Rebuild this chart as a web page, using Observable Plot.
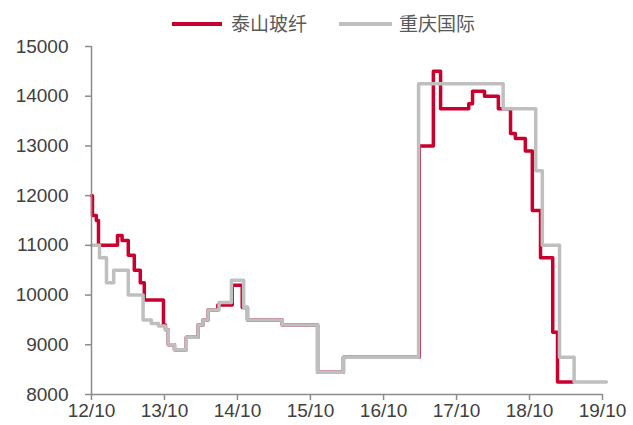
<!DOCTYPE html>
<html><head><meta charset="utf-8">
<script src="https://cdn.jsdelivr.net/npm/d3@7"></script>
<script src="https://cdn.jsdelivr.net/npm/@observablehq/plot@0.6"></script>
<style>
body{margin:0;background:#fff;}
#wrap{position:relative;width:633px;height:425px;overflow:hidden;}
.lg-line{position:absolute;height:4px;}
.lg-text{position:absolute;font-family:"Noto Sans CJK SC",sans-serif;font-size:19px;color:#595959;line-height:20px;}
</style></head>
<body><div id="wrap"></div>
<script>
// 泰山玻纤 (step start dates and prices)
const taishanDates = ["2012-10-01","2012-10-06","2012-10-25","2012-11-05","2013-02-08","2013-03-03","2013-04-03","2013-05-03","2013-06-02","2013-06-22","2013-09-26","2013-10-06","2013-10-20","2013-11-20","2014-01-18","2014-03-18","2014-04-12","2014-05-07","2014-06-25","2014-09-05","2014-10-25","2014-11-20","2015-05-13","2015-11-06","2016-03-14","2017-03-28","2017-06-07","2017-07-13","2017-12-01","2017-12-20","2018-02-18","2018-04-28","2018-06-28","2018-07-22","2018-09-10","2018-10-15","2018-11-25","2019-01-25","2019-02-18","2019-05-06"];
const taishanValues = [12000,11600,11500,11000,11200,11100,10800,10500,10250,9900,9400,9300,9000,8900,9150,9400,9500,9700,9800,10200,9750,9500,9400,8450,8750,13000,14500,13750,13850,14100,14000,13750,13250,13150,12900,11700,10750,9250,8250,8250];
// 重庆国际
const chongqingDates = ["2012-10-01","2012-11-10","2012-12-15","2013-01-20","2013-04-03","2013-06-16","2013-07-27","2013-09-01","2013-10-06","2013-10-20","2013-11-20","2014-01-18","2014-03-18","2014-04-12","2014-05-07","2014-07-01","2014-09-01","2014-11-01","2014-11-20","2015-05-13","2015-11-06","2016-03-14","2017-03-25","2018-05-22","2018-11-01","2018-12-04","2019-02-28","2019-05-12","2019-10-20"];
const chongqingValues = [11000,10750,10250,10500,10000,9500,9430,9380,9300,9000,8900,9150,9400,9500,9700,9850,10300,9750,9500,9400,8450,8750,14250,13750,12500,11000,8750,8250,8250];

const seriesNames = ["泰山玻纤","重庆国际"];
const seriesColors = ["#C8002D","#BFBFBF"];
const xTickLabels = ["12/10","13/10","14/10","15/10","16/10","17/10","18/10","19/10"];
const yTicks = [8000,9000,10000,11000,12000,13000,14000,15000];

const parse = d3.utcParse("%Y-%m-%d");
const toRows = (dates, vals, name) => dates.map((d,i)=>({date: parse(d), value: vals[i], name}));
const red = toRows(taishanDates, taishanValues, seriesNames[0]);
const gray = toRows(chongqingDates, chongqingValues, seriesNames[1]);
const xTicks = xTickLabels.map(s => { const [yy,mm] = s.split("/"); return new Date(Date.UTC(2000+ +yy, +mm-1, 1)); });
const labelOf = new Map(xTicks.map((d,i)=>[+d, xTickLabels[i]]));

const axisColor = "#8C8C8C";
const chart = Plot.plot({
  width: 633, height: 425,
  marginTop: 46, marginBottom: 31, marginLeft: 91, marginRight: 31,
  style: {fontFamily: "'Liberation Sans', Arial, sans-serif", fontSize: "19px", color: "#404040", background: "white", overflow: "visible"},
  x: {type: "utc", domain: [xTicks[0], xTicks[xTicks.length-1]]},
  y: {domain: [8000, 15000]},
  marks: [
    Plot.line(red, {x: "date", y: "value", curve: "step-after", stroke: seriesColors[0], strokeWidth: 3.5}),
    Plot.line(gray, {x: "date", y: "value", curve: "step-after", stroke: seriesColors[1], strokeWidth: 3.5}),
    Plot.ruleX([xTicks[0]], {stroke: axisColor, strokeWidth: 1.5}),
    Plot.ruleY([8000], {stroke: axisColor, strokeWidth: 1.5}),
    Plot.axisX({ticks: xTicks, tickFormat: d => labelOf.get(+d), tickSize: 6, tickPadding: 3, stroke: axisColor, strokeWidth: 1.5, fill: "#404040", label: null}),
    Plot.axisY({ticks: yTicks, tickSize: 6, tickPadding: 17, stroke: axisColor, strokeWidth: 1.5, fill: "#404040", label: null, tickFormat: d => String(d)})
  ]
});
const wrap = document.getElementById("wrap");
wrap.appendChild(chart);

// legend
const items = [
  {lineLeft: 172, lineWidth: 50, textLeft: 231},
  {lineLeft: 339, lineWidth: 53, textLeft: 399}
];
items.forEach((it, i) => {
  const ln = document.createElement("div");
  ln.className = "lg-line";
  ln.style.left = it.lineLeft + "px"; ln.style.width = it.lineWidth + "px"; ln.style.top = "22px";
  ln.style.background = seriesColors[i];
  wrap.appendChild(ln);
  const tx = document.createElement("div");
  tx.className = "lg-text";
  tx.style.left = it.textLeft + "px"; tx.style.top = "13px";
  tx.textContent = seriesNames[i];
  wrap.appendChild(tx);
});
</script>
</body></html>
